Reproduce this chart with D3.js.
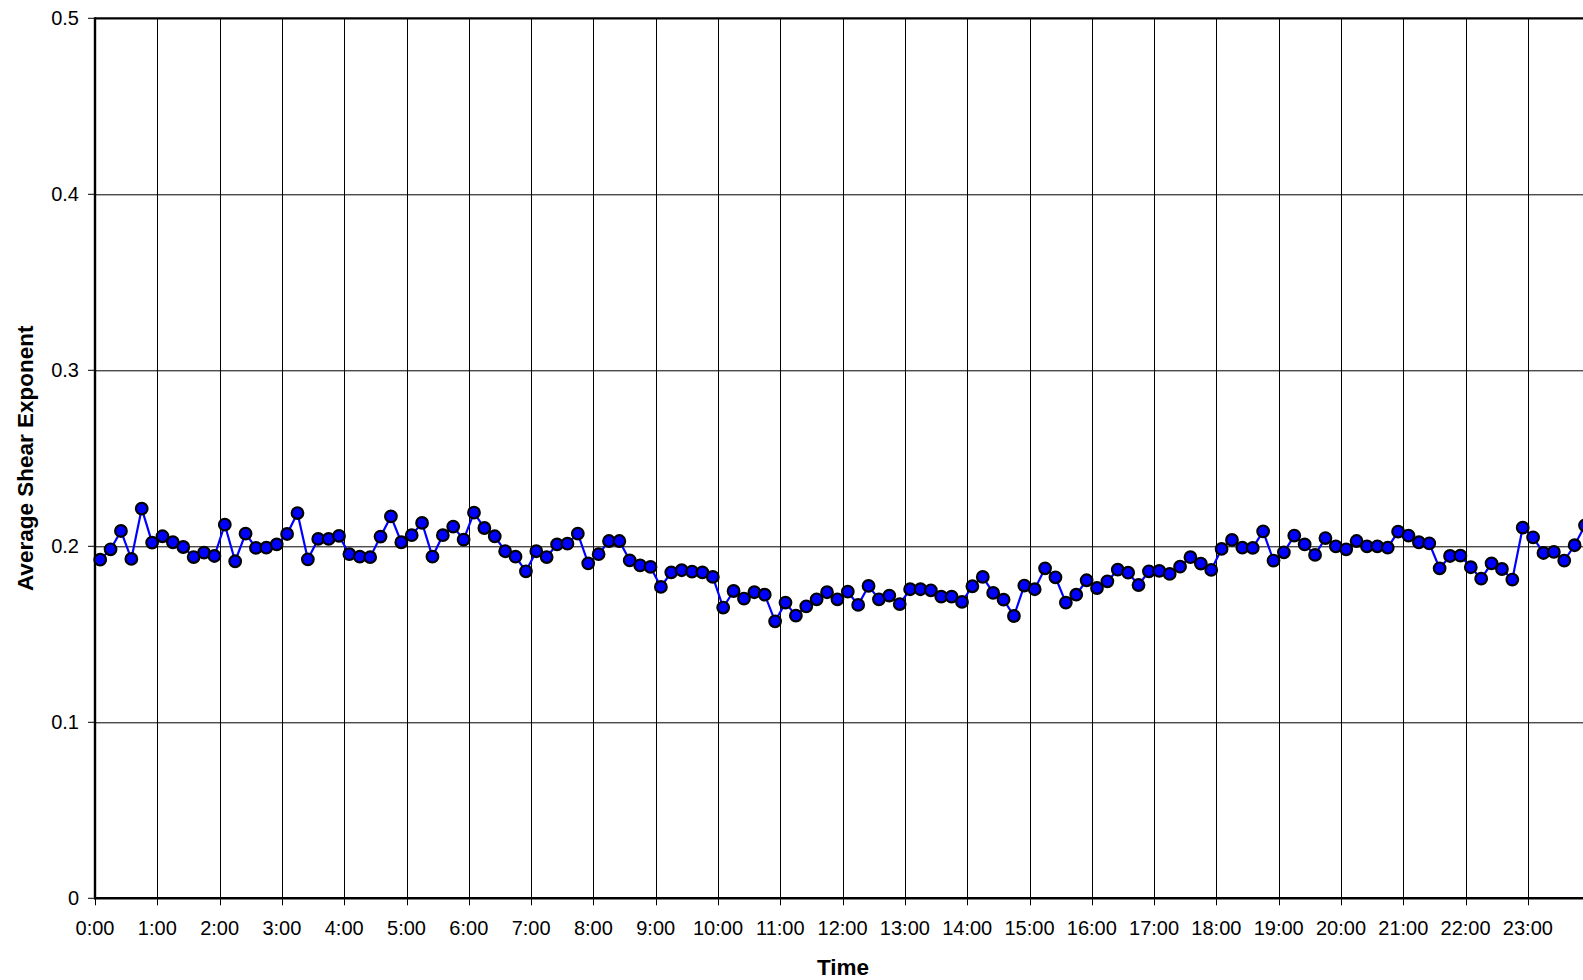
<!DOCTYPE html>
<html>
<head>
<meta charset="utf-8">
<script src="https://cdn.jsdelivr.net/npm/d3@7"></script>
<style>
	html, body { margin:0; padding:0; background:#fff; }
	svg { display:block; font-family: "Liberation Sans", Arial, Helvetica, sans-serif; }
	.tick-label { font-size:20px; fill:#000; }
	.axis-label { font-size:22.5px; font-weight:bold; fill:#000; }
</style>
</head>
<body>
<div id="svg-container"></div>
<script>
// one value every 10 minutes, one row per hour
var shearValues = [
	0.1924, 0.1983, 0.2087, 0.1928, 0.2214, 0.2021,
	0.2057, 0.2023, 0.1996, 0.1939, 0.1964, 0.1945,
	0.2123, 0.1915, 0.2072, 0.1991, 0.1992, 0.2011,
	0.2070, 0.2189, 0.1926, 0.2042, 0.2042, 0.2059,
	0.1955, 0.1941, 0.1938, 0.2055, 0.2170, 0.2023,
	0.2063, 0.2133, 0.1941, 0.2063, 0.2112, 0.2038,
	0.2191, 0.2104, 0.2057, 0.1972, 0.1941, 0.1858,
	0.1972, 0.1939, 0.2011, 0.2015, 0.2072, 0.1903,
	0.1955, 0.2030, 0.2030, 0.1920, 0.1892, 0.1883,
	0.1769, 0.1852, 0.1864, 0.1856, 0.1852, 0.1826,
	0.1652, 0.1746, 0.1703, 0.1739, 0.1725, 0.1574,
	0.1680, 0.1606, 0.1659, 0.1699, 0.1739, 0.1699,
	0.1742, 0.1667, 0.1775, 0.1699, 0.1720, 0.1672,
	0.1756, 0.1756, 0.1750, 0.1714, 0.1714, 0.1684,
	0.1773, 0.1826, 0.1735, 0.1697, 0.1604, 0.1777,
	0.1756, 0.1875, 0.1824, 0.1680, 0.1725, 0.1807,
	0.1763, 0.1801, 0.1867, 0.1850, 0.1780, 0.1858,
	0.1860, 0.1843, 0.1884, 0.1938, 0.1902, 0.1866,
	0.1985, 0.2036, 0.1992, 0.1991, 0.2085, 0.1919,
	0.1966, 0.2061, 0.2011, 0.1951, 0.2047, 0.2000,
	0.1983, 0.2030, 0.2000, 0.2000, 0.1992, 0.2083,
	0.2061, 0.2023, 0.2017, 0.1875, 0.1945, 0.1947,
	0.1881, 0.1816, 0.1903, 0.1871, 0.1811, 0.2106,
	0.2051, 0.1962, 0.1968, 0.1919, 0.2006, 0.2119
];

var hourLabels = ["0:00","1:00","2:00","3:00","4:00","5:00","6:00","7:00","8:00","9:00","10:00","11:00",
	"12:00","13:00","14:00","15:00","16:00","17:00","18:00","19:00","20:00","21:00","22:00","23:00"];
var yTicks = [0, 0.1, 0.2, 0.3, 0.4, 0.5];
var xTitle = "Time";
var yTitle = "Average Shear Exponent";

var _outerSize = { width:1583, height:980 };
var _margin = { top:18.3, left:95, bottom:81.7 };
var _plotWidth = 24 * 62.3;   // plot runs past the right edge of the picture
var _plotHeight = _outerSize.height - _margin.top - _margin.bottom;

// slot index for each 10-minute sample
var slots = shearValues.map(function(d, i) { return i; });

var _xScale = d3.scaleBand().domain(slots).range([0, _plotWidth]).paddingInner(0).paddingOuter(0);
var _yScale = d3.scaleLinear().domain([0, 0.5]).range([_plotHeight, 0]);

var svg = d3.select("#svg-container").append("svg")
	.attr("width", _outerSize.width)
	.attr("height", _outerSize.height);

var g = svg.append("g").attr("transform", "translate(" + _margin.left + "," + _margin.top + ")");

function hourX(i) { return _xScale(i * 6); }

// gridlines
g.append("g").attr("class", "grid-x")
	.selectAll("line").data(hourLabels.slice(1)).enter().append("line")
	.attr("x1", function(d, i) { return Math.round(hourX(i + 1)) + 0.5; })
	.attr("x2", function(d, i) { return Math.round(hourX(i + 1)) + 0.5; })
	.attr("y1", 0).attr("y2", _plotHeight)
	.attr("stroke", "#000").attr("stroke-width", 1);

g.append("g").attr("class", "grid-y")
	.selectAll("line").data(yTicks.slice(1, -1)).enter().append("line")
	.attr("x1", 0).attr("x2", _plotWidth)
	.attr("y1", function(d) { return Math.round(_yScale(d)) + 0.5; })
	.attr("y2", function(d) { return Math.round(_yScale(d)) + 0.5; })
	.attr("stroke", "#000").attr("stroke-width", 1);

// frame: top and right
g.append("line").attr("x1", 0).attr("x2", _plotWidth).attr("y1", 0).attr("y2", 0)
	.attr("stroke", "#000").attr("stroke-width", 2.2);
g.append("line").attr("x1", _plotWidth).attr("x2", _plotWidth).attr("y1", 0).attr("y2", _plotHeight)
	.attr("stroke", "#000").attr("stroke-width", 2.2);

// y axis
var yAxis = g.append("g").attr("class", "y axis");
yAxis.append("line").attr("x1", 0).attr("x2", 0).attr("y1", -1).attr("y2", _plotHeight + 1)
	.attr("stroke", "#000").attr("stroke-width", 2.4);
yAxis.selectAll(".tick").data(yTicks).enter().append("line")
	.attr("x1", -7).attr("x2", 0)
	.attr("y1", function(d) { return _yScale(d); })
	.attr("y2", function(d) { return _yScale(d); })
	.attr("stroke", "#000").attr("stroke-width", 1);
yAxis.selectAll("text").data(yTicks).enter().append("text")
	.attr("class", "tick-label")
	.attr("text-anchor", "end")
	.attr("x", -16)
	.attr("y", function(d) { return _yScale(d) + 7; })
	.text(function(d) { return d === 0 ? "0" : d3.format(".1f")(d); });

// x axis
var xAxis = g.append("g").attr("class", "x axis").attr("transform", "translate(0," + _plotHeight + ")");
xAxis.append("line").attr("x1", -1).attr("x2", _plotWidth).attr("y1", 0).attr("y2", 0)
	.attr("stroke", "#000").attr("stroke-width", 2.4);
xAxis.selectAll(".tick").data(hourLabels).enter().append("line")
	.attr("x1", function(d, i) { return Math.round(hourX(i)) + 0.5; })
	.attr("x2", function(d, i) { return Math.round(hourX(i)) + 0.5; })
	.attr("y1", 0).attr("y2", 7)
	.attr("stroke", "#000").attr("stroke-width", 1);
xAxis.selectAll("text").data(hourLabels).enter().append("text")
	.attr("class", "tick-label")
	.attr("text-anchor", "middle")
	.attr("x", function(d, i) { return hourX(i); })
	.attr("y", 37)
	.text(function(d) { return d; });

// axis titles
svg.append("text").attr("class", "axis-label")
	.attr("text-anchor", "middle")
	.attr("x", _margin.left + 748)
	.attr("y", 975)
	.text(xTitle);

svg.append("text").attr("class", "axis-label")
	.attr("text-anchor", "middle")
	.attr("transform", "translate(33," + (_margin.top + _plotHeight / 2) + ") rotate(-90)")
	.text(yTitle);

// series
var lineFunction = d3.line()
	.x(function(d, i) { return _xScale(i) + _xScale.bandwidth() / 2; })
	.y(function(d) { return _yScale(d); });

g.append("path").datum(shearValues)
	.attr("d", lineFunction)
	.attr("fill", "none")
	.attr("stroke", "#0000ff")
	.attr("stroke-width", 2.2);

g.append("g").attr("class", "nodes")
	.selectAll("circle").data(shearValues).enter().append("circle")
	.attr("cx", function(d, i) { return _xScale(i) + _xScale.bandwidth() / 2; })
	.attr("cy", function(d) { return _yScale(d); })
	.attr("r", 5.8)
	.attr("fill", "#0000ff")
	.attr("stroke", "#000")
	.attr("stroke-width", 2.2);
</script>
</body>
</html>
